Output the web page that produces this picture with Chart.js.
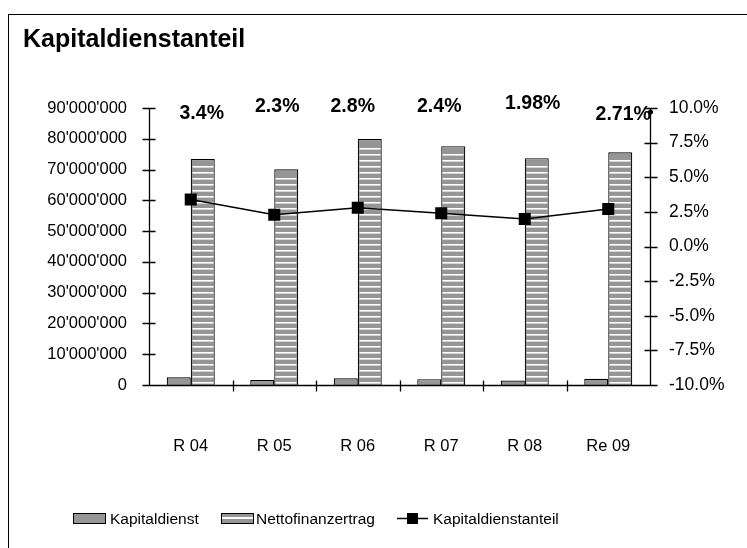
<!DOCTYPE html>
<html><head><meta charset="utf-8">
<script src="https://cdn.jsdelivr.net/npm/chart.js@4/dist/chart.umd.min.js"></script>
<style>html,body{margin:0;padding:0;background:#fff;overflow:hidden}</style>
</head><body>
<canvas id="c" width="747" height="548"></canvas>
<script>
const categories = ['R 04', 'R 05', 'R 06', 'R 07', 'R 08', 'Re 09'];
const kapitaldienst = [2500000, 1600000, 2200000, 1900000, 1450000, 2050000];
const nettofinanzertrag = [73400000, 70100000, 79900000, 77600000, 73700000, 75600000];
const kapitaldienstanteil = [3.4, 2.3, 2.8, 2.4, 1.98, 2.71];
const anteilLabels = ['3.4%', '2.3%', '2.8%', '2.4%', '1.98%', '2.71%'];
const leftTicks = [0, 10000000, 20000000, 30000000, 40000000, 50000000, 60000000, 70000000, 80000000, 90000000];
const rightTicks = [-10, -7.5, -5, -2.5, 0, 2.5, 5, 7.5, 10];
const seriesNames = ['Kapitaldienst', 'Nettofinanzertrag', 'Kapitaldienstanteil'];
const chartTitle = 'Kapitaldienstanteil';

const FONT = "'Liberation Sans', Arial, sans-serif";
const GRAY = '#969696';
const ctx = document.getElementById('c').getContext('2d');

function fmtThousands(v) {
  return String(Math.round(v)).replace(/\B(?=(\d{3})+(?!\d))/g, "'");
}

const decorPlugin = {
  id: 'decor',
  beforeDraw(chart) {
    const c = chart.ctx;
    c.save();
    c.fillStyle = '#fff';
    c.fillRect(0, 0, chart.width, chart.height);
    c.strokeStyle = '#000'; c.lineWidth = 1;
    c.strokeRect(8.5, 14.5, 900, 700);
    c.fillStyle = '#000';
    c.font = 'bold 25px ' + FONT;
    c.textBaseline = 'alphabetic'; c.textAlign = 'left';
    c.fillText(chartTitle, 23, 47);
    c.restore();
  },
  afterDatasetDraw(chart, args) {
    // white horizontal stripes inside the Nettofinanzertrag bars
    if (args.index !== 2) return;
    const c = chart.ctx;
    c.save();
    c.fillStyle = '#ffffff';
    args.meta.data.forEach(bar => {
      const p = bar.getProps(['x', 'y', 'base', 'width'], true);
      const l = Math.round(p.x - p.width / 2) + 1.5, r = Math.round(p.x + p.width / 2) - 1.5;
      const top = Math.min(p.y, p.base) + 2, bottom = Math.max(p.y, p.base);
      for (let yy = Math.round(bottom) - 3; yy > top + 1; yy -= 6) {
        c.fillRect(l, yy, r - l, 1.6);
      }
    });
    c.restore();
  },
  afterDatasetsDraw(chart, args, opts) {
    const c = chart.ctx;
    const x = chart.scales.x, y = chart.scales.y, y1 = chart.scales.y1;
    const ca = chart.chartArea;
    c.save();
    c.strokeStyle = '#000'; c.lineWidth = 1.3;
    c.beginPath();
    const lx = Math.round(ca.left) + 0.5;
    c.moveTo(lx, ca.top); c.lineTo(lx, ca.bottom);
    leftTicks.forEach(v => { const py = Math.round(y.getPixelForValue(v)) + 0.5; c.moveTo(lx - 7, py); c.lineTo(lx + 6, py); });
    const rx = Math.round(ca.right) + 0.5;
    c.moveTo(rx, ca.top); c.lineTo(rx, ca.bottom);
    rightTicks.forEach(v => { const py = Math.round(y1.getPixelForValue(v)) + 0.5; c.moveTo(rx - 6, py); c.lineTo(rx + 7, py); });
    const by = Math.round(y.getPixelForValue(0)) + 0.5;
    c.moveTo(ca.left, by); c.lineTo(ca.right, by);
    for (let i = 0; i < categories.length - 1; i++) {
      const px = Math.round((x.getPixelForValue(i) + x.getPixelForValue(i + 1)) / 2) + 0.5;
      c.moveTo(px, by - 5); c.lineTo(px, by + 6);
    }
    c.stroke();
    c.beginPath(); c.fillStyle = '#000';
    c.arc(rx, ca.top + 4, 2.5, 0, Math.PI * 2); c.fill();
    c.font = 'bold 19.5px ' + FONT;
    c.textAlign = 'center'; c.textBaseline = 'middle';
    anteilLabels.forEach((t, i) => {
      c.fillText(t, x.getPixelForValue(i) + opts.dx[i], ca.top + opts.dy[i]);
    });
    c.restore();
  },
  afterDraw(chart) {
    const c = chart.ctx;
    c.save();
    c.font = '15.5px ' + FONT;
    c.textBaseline = 'middle'; c.textAlign = 'left';
    c.fillStyle = '#000'; c.strokeStyle = '#000'; c.lineWidth = 1;
    const ly = 518.5;
    c.fillStyle = GRAY; c.fillRect(73.5, 513.5, 32, 10);
    c.strokeRect(73.5, 513.5, 32, 10);
    c.fillStyle = '#000'; c.fillText(seriesNames[0], 110, ly + 1);
    c.fillStyle = GRAY; c.fillRect(221.5, 513.5, 32, 10);
    c.fillStyle = '#fff'; c.fillRect(222, 517, 31, 2);
    c.strokeRect(221.5, 513.5, 32, 10);
    c.fillStyle = '#000'; c.fillText(seriesNames[1], 256, ly + 1);
    c.lineWidth = 1.5;
    c.beginPath(); c.moveTo(397, ly); c.lineTo(428, ly); c.stroke();
    c.fillRect(407, ly - 5.5, 11, 11);
    c.fillText(seriesNames[2], 433, ly + 1);
    c.restore();
  }
};

new Chart(ctx, {
  data: {
    labels: categories,
    datasets: [
      { type: 'line', label: seriesNames[2], data: kapitaldienstanteil, yAxisID: 'y1', order: 0,
        borderColor: '#000', borderWidth: 1.5, backgroundColor: '#000',
        pointStyle: 'rect', pointRadius: 8.5, pointHoverRadius: 8.5, pointBackgroundColor: '#000', pointBorderWidth: 0,
        tension: 0, fill: false },
      { type: 'bar', label: seriesNames[0], data: kapitaldienst, yAxisID: 'y', order: 1,
        backgroundColor: GRAY, borderColor: '#000', borderWidth: 1.2,
        categoryPercentage: 0.575, barPercentage: 1 },
      { type: 'bar', label: seriesNames[1], data: nettofinanzertrag, yAxisID: 'y', order: 1,
        backgroundColor: GRAY, borderColor: '#000', borderWidth: 1.2,
        categoryPercentage: 0.575, barPercentage: 1 }
    ]
  },
  options: {
    responsive: false,
    animation: false,
    devicePixelRatio: 1,
    layout: { padding: { top: 108, left: 0, right: 0, bottom: 0 } },
    plugins: {
      legend: { display: false },
      tooltip: { enabled: false },
      title: { display: false },
      decor: { dx: [11, 3, -5, -2, 8, 15], dy: [6, -1, -1, -1, -4, 7] }
    },
    scales: {
      x: {
        type: 'category',
        grid: { display: false, drawTicks: false },
        border: { display: false },
        ticks: { color: '#000', font: { family: FONT, size: 16.5 }, padding: 52, maxRotation: 0, autoSkip: false },
        afterFit(s) { s.height = 163; }
      },
      y: {
        type: 'linear', position: 'left', min: 0, max: 90000000,
        grid: { display: false, drawTicks: false },
        border: { display: false },
        afterBuildTicks(s) { s.ticks = leftTicks.map(v => ({ value: v })); },
        ticks: { color: '#000', font: { family: FONT, size: 16.5 }, padding: 22, callback: v => fmtThousands(v) },
        afterFit(s) { s.width = 149; }
      },
      y1: {
        type: 'linear', position: 'right', min: -10, max: 10,
        grid: { display: false, drawTicks: false },
        border: { display: false },
        afterBuildTicks(s) { s.ticks = rightTicks.map(v => ({ value: v })); },
        ticks: { color: '#000', font: { family: FONT, size: 17.5 }, padding: 19, callback: v => v.toFixed(1) + '%' },
        afterFit(s) { s.width = 97; }
      }
    }
  },
  plugins: [decorPlugin]
});
</script>
</body></html>
